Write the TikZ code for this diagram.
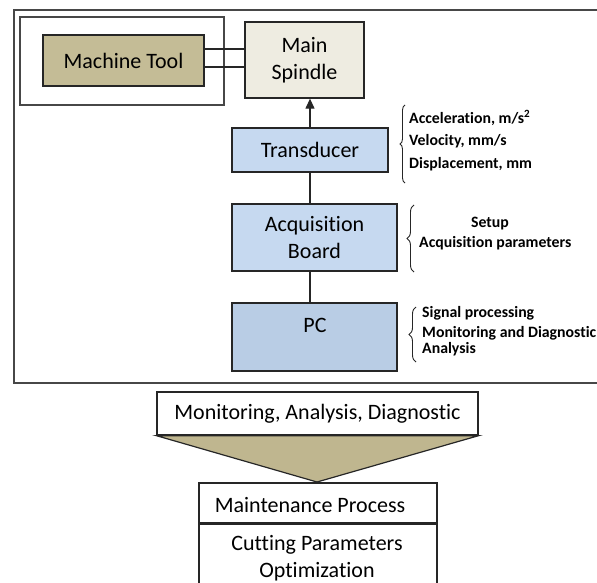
\documentclass[tikz,border=0pt]{standalone}
\usepackage{fontspec}
\setmainfont{Carlito}[RawFeature=-liga]
\usetikzlibrary{arrows.meta,decorations.pathreplacing,calc}
\definecolor{mtfill}{HTML}{C4BC96}
\definecolor{msfill}{HTML}{EEECE1}
\definecolor{bluefill}{HTML}{C6D9F0}
\definecolor{pcfill}{HTML}{B9CDE5}
\definecolor{trifill}{HTML}{BFB68F}
\definecolor{edge}{HTML}{262626}
\begin{document}
\begin{tikzpicture}[x=1pt,y=-1pt,
  box/.style={draw=edge, line width=1.3pt, inner sep=0pt, align=center, font=\fontsize{22}{27}\selectfont},
  frame/.style={draw=edge!85, line width=1.2pt},
  big/.style={font=\fontsize{22}{27}\selectfont, inner sep=0pt},
  lbl/.style={font=\bfseries\fontsize{15.8}{18}\selectfont, anchor=west, inner sep=0pt},
  conn/.style={draw=edge, line width=1.2pt},
  brc/.style={draw=edge, line width=0.9pt, decorate, decoration={brace, amplitude=#1}}
]
\useasboundingbox (0,0) rectangle (597,583);

% outer frame and Machine Tool container
\draw[frame] (14,10) rectangle (605,383);
\draw[frame] (20,17) rectangle (224,105);

% main boxes
\node[box, fill=mtfill, minimum width=161pt, minimum height=51pt] (mt) at (123.5,60.5) {Machine Tool};
\node[box, fill=msfill, minimum width=119pt, minimum height=76pt] (ms) at (304.5,60) {Main\\Spindle};
\node[box, fill=bluefill, minimum width=156pt, minimum height=44pt] (tr) at (310,150) {Transducer};
\node[box, fill=bluefill, minimum width=165pt, minimum height=67pt] (ab) at (314.5,237.5) {Acquisition\\Board};
\node[box, fill=pcfill, minimum width=165pt, minimum height=68pt] (pc) at (314.5,337) {};
\node[big] (pct) at (315,325) {PC};

% connectors
\draw[conn] ([yshift=11.5pt]mt.east) -- ([yshift=11.5pt]mt.east -| ms.west);
\draw[conn] ([yshift=-6.5pt]mt.east) -- ([yshift=-6.5pt]mt.east -| ms.west);
\draw[conn, -{Triangle[width=9pt,length=10pt]}] (tr.north) -- (tr.north |- ms.south);
\draw[conn] (tr.south) -- (tr.south |- ab.north);
\draw[conn] (ab.south -| tr.south) -- (tr.south |- pc.north);

% braces
\draw[brc=5pt] (405,183) -- (405,105);
\draw[brc=7pt] (414,272) -- (414,205);
\draw[brc=7pt] (416,362) -- (416,307);

% brace labels
\node[lbl] (l1) at (409,118) {Acceleration, m/s\textsuperscript{2}};
\node[lbl] (l2) at (409,141) {Velocity, mm/s};
\node[lbl] (l3) at (409,164) {Displacement, mm};
\node[lbl, anchor=center] (l4) at (490,224) {Setup};
\node[lbl] (l5) at (419,243) {Acquisition parameters};
\node[lbl] (l6) at (422,313) {Signal processing};
\node[lbl] (l7) at (422,333) {Monitoring and Diagnostic};
\node[lbl] (l8) at (422,349) {Analysis};

% bottom part
\node[box, fill=white, minimum width=321pt, minimum height=43pt] (mad) at (317.5,413.5) {Monitoring, Analysis, Diagnostic};
\coordinate (apex) at (317,482);
\draw[draw=edge, line width=1.2pt, fill=trifill] (mad.south west) -- (mad.south east) -- (apex) -- cycle;
\node[box, fill=white, minimum width=238pt, minimum height=40pt] (mp) at (318,503) {};
\node[big] (mpt) at (310,505) {Maintenance Process};
\node[box, fill=white, minimum width=238pt, minimum height=77pt, anchor=north] (cp) at (mp.south) {};
\node[big, align=center] (cpt) at (317,558.5) {Cutting Parameters\\Optimization};
\end{tikzpicture}
\end{document}
